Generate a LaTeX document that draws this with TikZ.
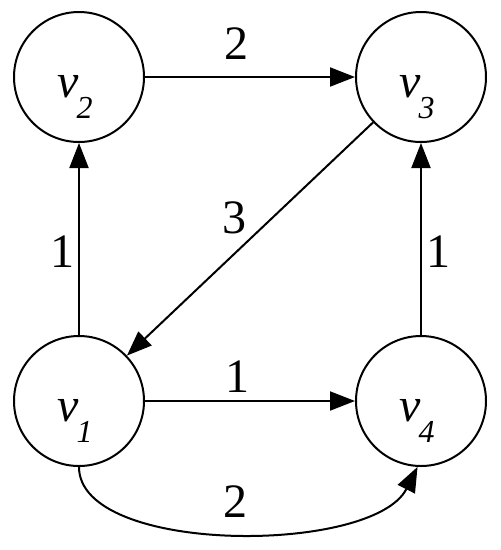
\documentclass[tikz,border=0pt]{standalone}
\usepackage{fontspec}
\setmainfont{Liberation Serif}
\usetikzlibrary{arrows.meta}
\newcommand\vlab[1]{{\fontsize{48}{48}\selectfont\itshape v}\kern-2pt\raisebox{-21pt}{\fontsize{32}{32}\selectfont\itshape #1}}
\tikzset{
  vert/.style={circle, draw, line width=2pt, minimum size=130pt, inner sep=0pt},
  vtext/.style={anchor=base west, inner sep=0pt},
  wlab/.style={inner sep=0pt, font=\fontsize{48}{48}\selectfont},
  edge/.style={line width=2pt, -{Triangle[length=25pt,width=19pt]}}
}
\begin{document}
\begin{tikzpicture}[x=1pt,y=-1pt]
\useasboundingbox (0,0) rectangle (501,550);
\node[vert] (v2) at (79,77) {};
\node[vert] (v3) at (421,77) {};
\node[vert] (v1) at (79,401) {};
\node[vert] (v4) at (421,401) {};
\node[vtext] (t2) at ([shift={(-22,20)}]v2.center) {\vlab{2}};
\node[vtext] (t3) at ([shift={(-22,20)}]v3.center) {\vlab{3}};
\node[vtext] (t1) at ([shift={(-22,20)}]v1.center) {\vlab{1}};
\node[vtext] (t4) at ([shift={(-22,20)}]v4.center) {\vlab{4}};
\draw[edge] (v2) -- (v3);
\draw[edge] (v1) -- (v2);
\draw[edge] (v4) -- (v3);
\draw[edge] (v1) -- (v4);
\draw[edge] (v3) -- (v1);
\draw[edge] (v1.south) .. controls (79,555) and (373,555) .. (v4.-93);
\node[wlab] (l23) at (236,44) {2};
\node[wlab] (l31) at (234,218) {3};
\node[wlab] (l12) at (62,252) {1};
\node[wlab] (l43) at (438,252) {1};
\node[wlab] (l14) at (237,377) {1};
\node[wlab] (l14b) at (235,502) {2};
\end{tikzpicture}
\end{document}
